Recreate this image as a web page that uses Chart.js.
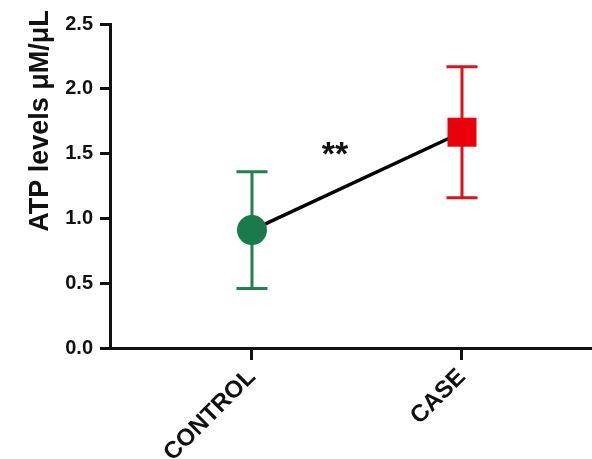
<!DOCTYPE html>
<html>
<head>
<meta charset="utf-8">
<script src="https://cdn.jsdelivr.net/npm/chart.js@4.4.1/dist/chart.umd.min.js"></script>
<style>
  html, body { margin: 0; padding: 0; background: #ffffff; overflow: hidden; }
  canvas { display: block; }
</style>
</head>
<body>
<canvas id="c" width="592" height="459"></canvas>
<script>
// Group labels and summary values (mean ± SD)
const groups = ['CONTROL', 'CASE'];
const means = [0.91, 1.665];
const sds = [0.45, 0.505];
const groupColors = ['#1b7a4b', '#e8000b'];
const errorColors = ['#24804f', '#d9141c'];
const markerStyles = ['circle', 'rect'];
const markerRadii = [15, 20.5];
const yTicks = [0, 0.5, 1.0, 1.5, 2.0, 2.5];
const yTitle = 'ATP levels \u03bcM/\u03bcL';
const sigLabel = '**';
const sigPos = [0.395, 1.41];

const FONT = '"Liberation Sans", Arial, Helvetica, sans-serif';

// Error bars with caps, drawn under the markers
const errorBars = {
  id: 'errorBars',
  beforeDatasetsDraw(chart) {
    const { ctx, scales: { x, y } } = chart;
    ctx.save();
    ctx.lineWidth = 3;
    means.forEach((m, i) => {
      const px = x.getPixelForValue(i);
      const top = y.getPixelForValue(m + sds[i]);
      const bot = y.getPixelForValue(m - sds[i]);
      const cap = 15.5;
      ctx.strokeStyle = errorColors[i];
      ctx.beginPath();
      ctx.moveTo(px, top); ctx.lineTo(px, bot);
      ctx.moveTo(px - cap, top); ctx.lineTo(px + cap, top);
      ctx.moveTo(px - cap, bot); ctx.lineTo(px + cap, bot);
      ctx.stroke();
    });
    ctx.restore();
  }
};

// Y-axis title and significance marker
const labels = {
  id: 'labels',
  afterDraw(chart) {
    const { ctx, scales: { x, y } } = chart;
    ctx.save();
    ctx.fillStyle = '#111';
    ctx.font = 'bold 27px ' + FONT;
    ctx.textAlign = 'center';
    ctx.textBaseline = 'alphabetic';
    ctx.translate(48, 121);
    ctx.rotate(-Math.PI / 2);
    ctx.fillText(yTitle, 0, 0);
    ctx.restore();

    ctx.save();
    ctx.fillStyle = '#111';
    ctx.font = 'bold 34px ' + FONT;
    ctx.textAlign = 'center';
    ctx.textBaseline = 'alphabetic';
    ctx.fillText(sigLabel, x.getPixelForValue(sigPos[0]), y.getPixelForValue(sigPos[1]));
    ctx.restore();
  }
};

new Chart(document.getElementById('c'), {
  type: 'line',
  data: {
    datasets: [{
      data: means.map((m, i) => ({ x: i, y: m })),
      borderColor: '#000',
      borderWidth: 3.5,
      pointStyle: markerStyles,
      pointRadius: markerRadii,
      pointHoverRadius: markerRadii,
      pointBackgroundColor: groupColors,
      pointBorderColor: groupColors,
      pointBorderWidth: 0,
      tension: 0
    }]
  },
  options: {
    responsive: false,
    animation: false,
    devicePixelRatio: 1,
    layout: { autoPadding: false, padding: { top: 24, right: 0, bottom: 0, left: 0 } },
    plugins: { legend: { display: false }, tooltip: { enabled: false } },
    scales: {
      x: {
        type: 'linear',
        min: -0.676,
        max: 1.619,
        afterBuildTicks(s) { s.ticks = groups.map((g, i) => ({ value: i })); },
        afterFit(s) { s.height = 111; s.paddingRight = 0; s.paddingLeft = 0; },
        grid: { drawOnChartArea: false, tickLength: 12, tickWidth: 3, tickColor: '#111' },
        border: { display: true, color: '#111', width: 3 },
        ticks: {
          autoSkip: false,
          minRotation: 45,
          maxRotation: 45,
          padding: 3,
          color: '#111',
          font: { family: FONT, size: 24, weight: 'bold' },
          callback: (v) => groups[v]
        }
      },
      y: {
        min: 0,
        max: 2.5,
        afterBuildTicks(s) { s.ticks = yTicks.map(v => ({ value: v })); },
        afterFit(s) { s.width = 110; },
        grid: { drawOnChartArea: false, tickLength: 10, tickWidth: 3, tickColor: '#111' },
        border: { display: true, color: '#111', width: 3 },
        ticks: {
          padding: 7,
          color: '#111',
          font: { family: FONT, size: 20, weight: 'bold' },
          callback: (v) => Number(v).toFixed(1)
        }
      }
    }
  },
  plugins: [errorBars, labels]
});
</script>
</body>
</html>
